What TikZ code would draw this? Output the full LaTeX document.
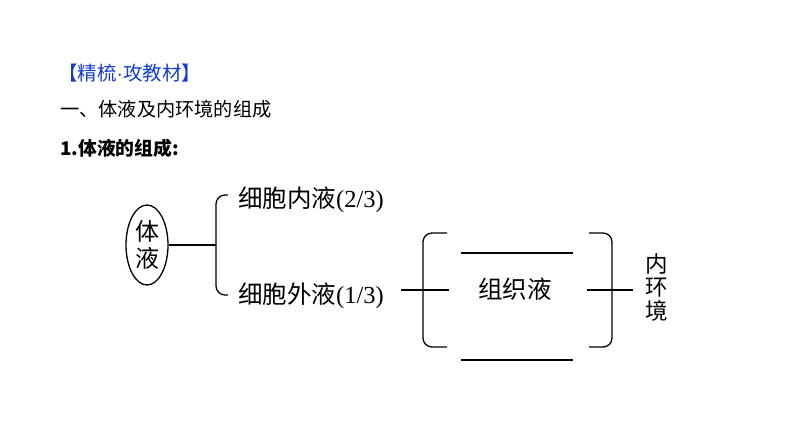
\documentclass[tikz,border=0pt]{standalone}
\usepackage{fontspec}
\usetikzlibrary{shapes.geometric}
\setmainfont{Liberation Serif}
\newfontfamily\cjk{Noto Sans CJK SC}
\newfontfamily\lsans{Liberation Sans}
\definecolor{hdrblue}{RGB}{20,60,210}
\begin{document}
\begin{tikzpicture}[x=1pt,y=-1pt,
  line/.style={line width=1.3pt,black},
  brk/.style={line width=1.3pt,black,rounded corners=9pt},
  txt/.style={inner sep=0pt,anchor=west},
  big/.style={font=\fontsize{24.5}{28}\selectfont}]
\useasboundingbox (0,0) rectangle (794,446);
% header
\node[txt,text=hdrblue,font=\cjk\fontsize{19.5}{22}\selectfont] (h1) at (58,73) {【精梳{\lsans ·}攻教材】};
\node[txt,font=\cjk\fontsize{19.2}{24}\selectfont] (h2) at (60,109) {一、体液及内环境的组成};
\node[txt,font=\cjk\bfseries\fontsize{18.8}{22}\selectfont] (h3) at (60,148) {\textbf{1.}体液的组成\textbf{:}};
% body fluid ellipse
\node[draw,line width=1.3pt,ellipse,minimum width=42pt,minimum height=80pt,inner sep=0pt,align=center,font=\cjk\fontsize{24}{27}\selectfont] (body) at (147,245) {体\\液};
% first bracket
\coordinate (b1t) at (228,195);
\coordinate (b1b) at (228,295);
\coordinate (b1m) at (216,245);
\draw[brk] (b1t) -- (216,195) -- (216,295) -- (b1b);
\draw[line] (body.east) -- (b1m);
\node[txt,big] (ici) at (238,200) {{\cjk 细胞内液}(2/3)};
\node[txt,big] (eci) at (238,296) {{\cjk 细胞外液}(1/3)};
% second group
\coordinate (l1a) at (401,290);
\coordinate (l1b) at (449,290);
\draw[line] (l1a) -- (l1b);
\draw[brk] (447,233) -- (423,233) -- (423,347) -- (447,347);
\coordinate (ta) at (461,253);
\coordinate (tb) at (573,253);
\draw[line] (ta) -- (tb);
\node[inner sep=0pt,font=\cjk\fontsize{24.5}{26}\selectfont] (isf) at (515,289) {组织液};
\coordinate (ba) at (461,360);
\coordinate (bb) at (573,360);
\draw[line] (ba) -- (bb);
\draw[brk] (589,233) -- (612,233) -- (612,347) -- (589,347);
\coordinate (r1a) at (587,290);
\coordinate (r1b) at (633,290);
\draw[line] (r1a) -- (r1b);
\node[inner sep=0pt,align=center,font=\cjk\fontsize{22.5}{23.5}\selectfont] (env) at (657,287) {内\\环\\境};
\end{tikzpicture}
\end{document}
